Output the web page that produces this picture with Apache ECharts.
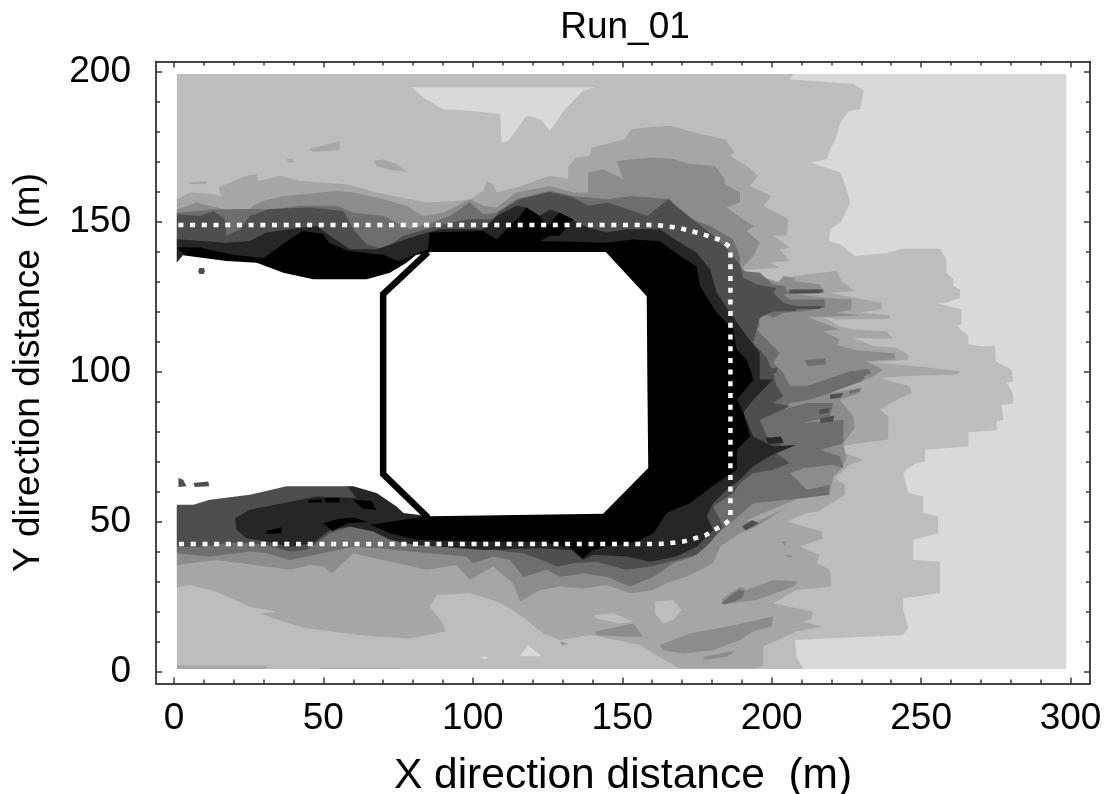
<!DOCTYPE html>
<html><head><meta charset="utf-8">
<style>html,body{margin:0;padding:0;background:#fff}#c{width:1107px;height:794px}</style>
<script src="https://cdn.jsdelivr.net/npm/echarts@6/dist/echarts.min.js"></script>
</head><body><div id="c"></div>
<script>
const xMajorTicks=[0,50,100,150,200,250,300];
const xMinorTicks=[10,20,30,40,60,70,80,90,110,120,130,140,160,170,180,190,210,220,230,240,260,270,280,290];
const yMajorTicks=[0,50,100,150,200];
const yMinorTicks=[10,20,30,40,60,70,80,90,110,120,130,140,160,170,180,190];

const fieldExtent=[[1,1],[298.6,1],[298.6,199.3],[1,199.3]];

const level1=[[1,199.3],[207.4,199.3],[206,197.6],[227.4,196],[230.8,193.8],[229.7,187.7],[225.8,187],[223,183.2],[221.3,177.6],[219.6,174.3],[218.5,171],[213,169.8],[223,166.5],[224.7,162],[226.3,156.5],[223,149.8],[219.5,147.6],[219.2,143.7],[222.8,142.6],[227.9,138.7],[238.4,139.6],[243.5,141.1],[256.3,141.1],[258.5,137.6],[258.5,133.1],[260.7,130.9],[260.7,128.7],[263,127.5],[263,124.8],[258.5,123.1],[255.2,122.9],[263.5,120.9],[263.5,115.9],[261.8,115.5],[265.8,112],[265.8,109.2],[270.2,108.6],[274.7,108.8],[275,103.6],[280.3,100.8],[280.8,96.9],[278.6,96.4],[280.8,92.5],[280.8,89.5],[276.9,89.1],[277.5,84.1],[275.3,83.6],[275.3,80.6],[265.8,79.9],[265.8,75.2],[251.3,74.1],[251.3,70.2],[248.5,69.7],[245.1,67.4],[244,66.3],[245.7,59.7],[250.7,58.5],[250.7,53],[255.7,51.9],[255.7,46.3],[247.3,44.1],[247.3,37.4],[256.3,36.8],[256.3,26.3],[244,24.6],[244,20.7],[245.7,15.1],[244,12.4],[207.8,10.7],[208.3,5.1],[210.6,1],[1,1]];
const lightWedge=[[79.5,194.9],[84,191.2],[90.1,187.6],[99,187.1],[109.1,186],[109.6,176.5],[111.9,177.1],[118,185.4],[122.4,184.3],[125.8,180.4],[130.8,187.6],[137,193.8],[140.9,194.9]];
const lightSpot1=[[115.8,5.3],[118.5,9],[123,5.3]];
const lightSpot2=[[102.4,5.1],[105,5],[104,4.2]];

const level2=[[1,157.6],[5.4,159.8],[13.2,159.3],[16,158.7],[14.8,161.5],[19.9,163.7],[24.3,165.4],[27.7,165.9],[28.2,163.7],[35.5,165.4],[42.2,163.7],[57.8,162.6],[67.8,159.8],[79,157.6],[84.5,156.5],[94.6,157],[99,157.6],[103.5,160.4],[104.6,163.7],[106.8,162.6],[108,159.8],[114.6,161.5],[125.8,165.4],[131.9,164.3],[131.9,168.7],[134.7,171.5],[139.2,172.1],[139.7,174.8],[150.9,177.6],[153.1,181],[158.1,181.5],[166,182.1],[168.2,181.5],[176,179.3],[184.4,177.6],[187.7,173.2],[186,172.1],[191.6,168.7],[195.5,165.4],[192.7,162],[200,158.7],[197.2,155.4],[205.6,150.9],[205,145.4],[200.5,145.4],[206.1,141.5],[202.7,140.9],[206.1,137],[199.4,136.5],[202.7,134.8],[193.8,134.2],[190.5,134],[201.6,130.3],[207.8,132],[221.7,133.7],[223.4,130.3],[227.8,127],[219.5,126.4],[227.3,124.8],[236.8,123.1],[236.8,120.9],[229.5,119.8],[239.5,118.9],[239.5,117.8],[221.7,117.5],[217.3,118.4],[222.8,115.3],[227.3,114.2],[238.4,113.6],[240.7,111.1],[227.3,111.4],[234,108.6],[241.8,108.1],[245.7,105.8],[245.7,104],[232.9,103.3],[246.2,102.2],[263,100.3],[262.4,99.2],[247.4,98.8],[236.2,98],[246.2,95.3],[246.8,93],[241.8,90.8],[236.2,87.5],[239,85.3],[239,77.5],[229.5,76.3],[219.5,74.7],[230.6,70.8],[226,69.1],[221.1,64.7],[224.5,62.4],[224.5,59.1],[215.6,53.5],[211.7,53],[205,50.2],[216.7,46.9],[217.2,44.6],[209.4,41.8],[216.1,39.1],[215,36.3],[219.5,34.1],[220,28.5],[208.3,27.4],[200.5,22.9],[213.9,20.1],[213.4,17.9],[210.6,16.8],[217.2,15.1],[208.3,13.5],[197.2,8.5],[197.2,2.3],[195,1.2],[169.3,1.2],[160.4,6.2],[155.9,9],[148.1,10.7],[139.2,12.4],[129.1,10.7],[123.6,12.9],[118,17.4],[112.4,21.3],[108,23.5],[99,26.3],[87.9,25.7],[85.6,21.8],[90.1,16.2],[90.7,13.5],[79,11.2],[67.8,11.8],[57.8,12.9],[44.4,14.6],[36.6,16.8],[28.8,19.6],[34.4,20.1],[25.4,21.8],[14.3,26.8],[5.4,29],[1,28.3]];
const level2Isles=[
 [[45.3,174.3],[55.5,177],[55.5,174],[46.6,173.4]],
 [[37.7,171],[39.9,171.2],[39.9,169.8],[38.3,169.8]],
 [[66.7,170.4],[70,170.8],[74.5,169.3],[77.8,166.7],[72.3,167.4],[67.8,168.7]],
 [[4.8,163.2],[10.9,163.7],[10.9,162.6],[5.4,162.6]],
 [[1,2.2],[31,2.2],[31,1],[1,1]],
 [[49,1.4],[75.5,1.4],[75.5,1],[49,1]]
];
const level2Holes=[
 [[160.9,23.5],[167,24],[169.8,20.7],[167,17.4],[163.6,16.2],[160.9,19.6]],
 [[140.3,19],[147,19.6],[153.7,16.8],[149.2,16.2],[141.4,17.9]]
];

const level3=[[1,154.2],[7.6,156.5],[14.3,154.8],[23.8,152.6],[26.5,155.4],[29.9,157],[36.6,158.7],[44.4,159.3],[54.4,160.4],[60,159.8],[67.8,158.2],[77.8,155.4],[83.4,152],[90.1,153.1],[99,157.6],[103.5,155.4],[108,154.8],[114.6,159.8],[125.8,162],[133.6,159.8],[138.6,159.8],[138.6,166.5],[143.6,167.6],[150.3,164.3],[148,170.4],[160.4,171.5],[167,171],[172.6,169.3],[181,168.7],[184.3,164.3],[184.3,162.6],[189.4,159.8],[189.4,156.5],[184.9,154.8],[190.5,150.9],[193.9,148.7],[191.6,147],[196,143.1],[193.9,138.7],[190.5,135.3],[190.5,133.7],[202.2,129.8],[204,132],[207.8,131.4],[207.8,130.3],[216.1,129.2],[217.8,126.4],[208.3,125.9],[217.8,124.8],[226.7,124.2],[226.7,120.9],[221.7,119.8],[230,118.9],[218.3,118.4],[211.7,118.4],[222.8,114.2],[217.3,113.6],[222.8,110.8],[221.7,109],[228.4,107.3],[241.2,106.2],[241.2,104.2],[231.7,103.6],[237.3,100.8],[234,98.6],[230,96.9],[219.5,93],[229.5,94.7],[229.5,93],[222.8,90.8],[227.3,85.3],[227.8,81.4],[223.9,76.3],[225,71.3],[223,67.4],[220.6,65.2],[219.5,59.7],[211.7,58],[207.2,56.3],[194.9,48.5],[189.4,46.3],[182.7,41.8],[180.4,36.3],[171.5,31.8],[164.8,29.6],[160.4,27.4],[152.6,26.3],[144.8,29],[137,27.9],[129.1,28.5],[122.5,27.4],[115.8,23.5],[113.5,29.6],[106.8,35.2],[99,30.7],[94.6,35.7],[84.5,34.1],[70,37.4],[60,39.6],[52.8,32.9],[50,35.2],[45.5,35.7],[38.8,34.1],[31,35.2],[14.3,37.4],[1,35.7]];
const level3Isles=[
 [[183,24],[189.4,28.5],[191.6,27.4],[200.5,30.7],[208.9,30.2],[207.2,28.5],[194.9,24],[186,22.9]],
 [[162.6,9],[172.6,12.9],[184.9,15.1],[200.5,18.5],[199.9,15.1],[193.8,13.5],[189.4,10.7],[180.4,7.3],[170.4,6.2],[163.6,7.3]],
 [[140.8,13.5],[153.7,16.2],[157,11.8],[151.4,11.8],[141.4,12.4]],
 [[177.2,5.1],[188.3,7.3],[185,5.1],[177.2,4]],
 [[129,10],[132,9.5],[130,9]],
 [[203,43.5],[205,43.5],[204.5,42]],
 [[204,39],[207,39],[206.5,38]]
];
const level3Holes=[
 [[19.3,155.4],[26.5,160.9],[29.9,161.5],[28.8,158.7],[23.2,153.7],[21,153.1]],
 [[170,29.6],[184.5,37.4],[199.5,44.6],[209.5,48],[199.5,44],[186.5,37.4],[174.8,30.7]],
 [[204,84.5],[213,84.5],[216.5,87.5],[212,85.5]],
 [[191.5,50.6],[210.6,58.5],[211.7,58],[194,49.6]]
];

const level4=[[1,153.1],[13.2,154.2],[26.5,154.3],[34.4,154.3],[42.2,155.4],[54.4,155.4],[60,153.1],[70,152],[79,147.6],[84.5,149.2],[92.3,152],[99,156.5],[103.5,152.6],[108,153.1],[114.6,157.6],[125.8,160.4],[133.6,158.7],[144.8,157.6],[153.6,158.7],[166,157.6],[170.4,152],[179.4,148.7],[187.1,144.2],[189.4,138.7],[189.4,135.3],[191,133.6],[196,133.1],[200.5,129.2],[204.4,128.7],[205,127],[217.3,127.5],[217.3,126.4],[203.9,125.9],[206.1,124.2],[217.8,124.2],[217.8,121.4],[210.5,120.3],[203.9,119.8],[200.5,118.1],[195,120.9],[196,115.3],[195,114.2],[202.7,106.4],[200.5,103.1],[203.9,99.7],[206.1,95.3],[211.7,95.3],[226.2,100.3],[232.9,100.8],[230,96.9],[219.5,93],[212.8,90.8],[206.1,89.7],[203.9,87.5],[211.7,89.7],[220.6,89.7],[219.5,85.3],[210.5,83],[224,84.1],[224,76.3],[216.1,74.1],[222.8,71.9],[224,68],[220.6,69.1],[210.6,68],[206.1,66.3],[211.7,60.8],[218.3,61.9],[219.5,59.1],[210.6,58],[193.8,56.3],[184.9,48.5],[178.2,43],[173.7,38.5],[167.1,36.3],[160.4,31.8],[152.6,28.5],[144.8,31.8],[137,32.9],[129.1,31.8],[124.7,34.1],[117,31.8],[112.4,37.4],[106.8,38.5],[100.1,36.3],[97.9,38.5],[85.6,39.6],[74.5,40.7],[68.9,41.3],[60,41.8],[44.4,38.5],[38.8,37.4],[31,39.6],[25.4,40.2],[12,38.5],[1,39.6]];
const level4Isles=[
 [[183,23],[189,27.5],[191,27],[190,24.5],[184.5,22.5]],
 [[211,104],[218,104.5],[218,102.5],[212,102]],
 [[210.6,60.2],[219.5,62.4],[219,59.7],[211.3,59.1]],
 [[226,100],[232,101],[233.5,99.5],[228,98.7]],
 [[226,93.7],[230,94.7],[229.5,93.5],[226,92.7]],
 [[216,70.5],[219,71],[218.5,69.5],[216,69]]
];

const level5=[[1,152.6],[8.7,152],[13.2,153.7],[17,150.9],[17.6,145.4],[22.1,147.6],[25.4,152],[32.1,154.3],[45.5,154.8],[56.7,153.7],[60,147.6],[64.5,142.6],[70,140.9],[76.8,145.4],[84.5,147.6],[92.3,149.8],[99,150.9],[106.8,150.9],[109,153.7],[115.8,157.6],[125.8,160],[133.6,158.2],[138.6,155.4],[145,156.5],[148.4,155.4],[158.4,152],[165.4,157.6],[169.3,154.3],[175,149.8],[180.5,145.4],[185,140.9],[189.4,135.8],[190.5,131.4],[195,129.2],[201.6,128],[200.5,126.4],[203.9,123],[208.3,122],[208.3,120.4],[200.5,120.2],[196,118.1],[195,114.2],[193.8,109.8],[198.3,104.8],[200.5,99.7],[201.6,95.3],[203.9,91.9],[200.5,89.7],[206.1,88.6],[201.6,86.5],[196,84.1],[198.3,78.6],[203.9,76.3],[200.5,73.6],[206.1,69.7],[200.5,67.4],[193.8,66.3],[189.4,63],[187.2,59.7],[180.4,55.2],[183.8,48.5],[179.3,43],[174.9,39.1],[166,36.8],[159.5,35.2],[151.4,34.1],[141.4,36.8],[133.6,36.3],[128,35.2],[124.7,36.8],[116.9,39.6],[106.8,40.7],[92.3,41.8],[75.6,43],[67.8,47.4],[58.9,48.5],[52.2,46.3],[44.4,40.7],[38.8,40.2],[31,42.4],[25.4,43],[17.6,43],[8.7,41.8],[1,41.8]];
const level5Isles=[
 [[219.5,92.5],[224,93],[223,91.5],[219.5,91]],
 [[216,87.5],[219.5,88],[219,86.5],[216,86]],
 [[216,84.5],[221,85.5],[220.5,83.5],[216.5,83]],
 [[199,101],[202,101.5],[201.5,99.7],[199,99.5]],
 [[206,127.5],[217,127.5],[216,126.3],[206,126.3]],
 [[206,122],[217,122],[216,121],[207,121]],
 [[190,48.5],[193.5,50.7],[195.7,49.6],[191.4,47.3]]
];

const level6=[[1,144.3],[17.6,143.1],[25.4,143.7],[31,146.5],[38.8,147.6],[47.7,148.7],[52.2,145.4],[58.9,140.9],[67.8,140.9],[81.2,145.4],[89,147.6],[103.5,147.6],[108,152],[114.6,155.4],[118,154.8],[122.4,152],[125.8,154.2],[129.1,153.1],[137,148.7],[144.8,146.5],[151.4,147.6],[162.6,147.6],[169.3,143.1],[174.9,139.8],[179.4,134.2],[181.6,126.4],[186.1,119.8],[191.6,112],[196,106.4],[196,97.5],[200.5,97.5],[193.8,90.8],[190.5,86.5],[193.8,78.6],[200.5,75.2],[208.3,75.8],[199.4,72],[193.8,68.6],[189.4,64.1],[184.9,60.8],[180.4,56.3],[178.3,51.9],[180.4,47.4],[175,41.8],[167.9,38.5],[159.5,36.8],[151.4,38.5],[140.3,39.1],[136.8,37.4],[133,40.7],[122.5,41.3],[103.5,40.7],[81.2,42.4],[72.3,44.1],[66.7,46.9],[58.9,48.5],[52.2,47.4],[46.6,43],[38.8,41.8],[31,43.5],[24.3,44.6],[21,47.4],[20.4,51.3],[25.4,54.1],[47.7,58.5],[61,58],[1,136]];
const level6Isles=[[[198,78],[203,78.5],[204,76.5],[199,76]]];

const level7=[[1,141.6],[8.7,141.5],[20,139],[30,138],[37,143],[43,147],[50,146],[52,143],[58,140.5],[70,139],[75,137],[78,138],[85,141],[85.6,146.5],[103.5,147],[108,144.2],[115.8,152],[118,154.8],[122.4,152],[124.7,148.7],[129.1,153.1],[133.6,150.9],[129,145.4],[125.8,145.4],[122.5,143.7],[144.8,143.1],[153.6,144.2],[162.6,143.6],[169.3,138.7],[174.9,135.3],[176,128.7],[181.6,119.8],[187.1,114.2],[188.3,107.5],[191.6,104.2],[193.9,97.5],[188.3,90.8],[190.5,86.5],[192.7,78.6],[188.3,74.1],[188.3,67.4],[181.6,63],[172.6,56.3],[164.8,53],[160.4,46.3],[155,43.5],[144.8,41.8],[140.3,40.7],[136.8,38],[133,41.3],[128,42.4],[122.5,43.5],[103.5,43.5],[81.2,44.1],[72.3,46.3],[65.6,49.1],[72,50],[85,52]];
const level7Isles=[
 [[31,47],[36,48.3],[36,46.4],[31,46]],
 [[45,57.3],[49.5,57.7],[49.5,56.6],[45,56.4]],
 [[50.5,58],[55.5,58],[55.5,56.5],[50.5,56.5]],
 [[60,57.4],[66,57],[67.8,54],[63,54.5]],
 [[50,49.6],[55,51],[60,51.5],[65,50],[58,49.6],[53,47]]
];

const hole=[[0.5,135.9],[3,138.9],[17.6,137],[27.7,136.4],[36.6,133.1],[46.6,130.9],[64.5,130.9],[72.3,133.1],[77.8,136.4],[81,139],[86.2,140],[144.5,140],[158.2,125.3],[158.4,97.5],[158.7,68],[143.6,52.8],[85.6,51.9],[76.8,53],[74.5,55.2],[67.8,59.7],[60,61.9],[37.7,61.9],[25.4,59.1],[12,57.4],[6.5,55.8],[0.5,55.8]];
const holeBlobs=[
 [[1.5,64.7],[3.1,64.1],[4.2,61.9],[1.5,61.7]],
 [[6.5,63],[11.5,63.5],[11.8,61.9],[7,61.7]],
 [[8.5,134.7],[10,134.7],[10.4,133.7],[10,132.7],[8.5,132.7],[8.1,133.7]]
];

const obstacleLine=[[85,140],[70,126],[70,66],[85,51.5]];
const dottedBoundary=[[1.5,149],[161.5,149],[168.8,148.1],[176,146.2],[183.2,143.9],[186.2,141.5],[186.2,50.8],[184.3,49.4],[177.6,45.5],[170.4,43.5],[162.6,42.7],[1.5,42.7]];

const greys={light:'#d9d9d9',g1:'#bdbdbd',g2:'#a6a6a6',g3:'#8c8c8c',g4:'#6e6e6e',g5:'#4e4e4e',g6:'#262626',g7:'#000000',hole:'#ffffff'};
const layers=[
 {c:greys.light,p:[fieldExtent]},
 {c:greys.g1,p:[level1]},
 {c:greys.light,p:[lightWedge,lightSpot1,lightSpot2]},
 {c:greys.g2,p:[level2,...level2Isles]},
 {c:greys.g1,p:level2Holes},
 {c:greys.g3,p:[level3,...level3Isles]},
 {c:greys.g2,p:level3Holes},
 {c:greys.g4,p:[level4,...level4Isles]},
 {c:greys.g5,p:[level5,...level5Isles]},
 {c:greys.g6,p:[level6,...level6Isles]},
 {c:greys.g7,p:[level7,...level7Isles]},
 {c:greys.hole,p:[hole]},
 {c:greys.g5,p:holeBlobs}
];

const xr={min:-6,max:306.5}, yr={min:-3.8,max:203.5};
const ln={show:true,lineStyle:{color:'#3a3a3a',width:1.5},onZero:false};
const none={show:false};
const labelFont={fontFamily:'Liberation Sans',color:'#000'};
function xa(pos,ticks,len,lab){return {type:'value',...xr,position:pos,axisLine:ln,splitLine:none,
 axisTick:{show:true,inside:true,length:len,customValues:ticks,lineStyle:{color:'#3a3a3a',width:1.5}},
 axisLabel:lab?{show:true,customValues:ticks,fontSize:37,margin:17,...labelFont}:none,
 ...(lab?{name:'X direction distance  (m)',nameLocation:'middle',nameGap:71,nameTextStyle:{fontSize:42.5,...labelFont}}:{})};}
function ya(pos,ticks,len,lab){return {type:'value',...yr,position:pos,axisLine:ln,splitLine:none,
 axisTick:{show:true,inside:true,length:len,customValues:ticks,lineStyle:{color:'#3a3a3a',width:1.5}},
 axisLabel:lab?{show:true,customValues:ticks,fontSize:37,margin:25,...labelFont}:none,
 ...(lab?{name:'Y direction distance  (m)',nameLocation:'middle',nameGap:109,nameTextStyle:{fontSize:37,...labelFont}}:{})};}

const series=layers.map(l=>({type:'custom',coordinateSystem:'cartesian2d',silent:true,animation:false,z:2,clip:true,
 data:l.p.map((_,i)=>[i]),
 renderItem:(params,api)=>({type:'polygon',shape:{points:l.p[params.dataIndex].map(d=>api.coord(d))},style:{fill:l.c,stroke:null}})
}));
series.push({type:'line',silent:true,animation:false,z:5,data:obstacleLine,showSymbol:false,symbol:'none',
 lineStyle:{color:'#000',width:6.5,join:'miter',cap:'butt'}});
series.push({type:'line',silent:true,animation:false,z:6,data:dottedBoundary,showSymbol:false,symbol:'none',
 lineStyle:{color:'#fff',width:4.5,type:[5,6.7],cap:'butt'}});

const chart=echarts.init(document.getElementById('c'),null,{renderer:'canvas'});
chart.setOption({animation:false,backgroundColor:'#fff',
 title:{text:'Run_01',left:620,top:4,textAlign:'center',textStyle:{fontSize:37,fontWeight:'normal',fontFamily:'Liberation Sans',color:'#000'}},
 grid:{left:156,right:17,top:61.5,bottom:110.5,containLabel:false,outerBoundsMode:'none'},
 xAxis:[xa('bottom',xMajorTicks,6,true),xa('bottom',xMinorTicks,4,false),xa('top',xMajorTicks,6,false),xa('top',xMinorTicks,4,false)],
 yAxis:[ya('left',yMajorTicks,6,true),ya('left',yMinorTicks,4,false),ya('right',yMajorTicks,6,false),ya('right',yMinorTicks,4,false)],
 series});
</script></body></html>
